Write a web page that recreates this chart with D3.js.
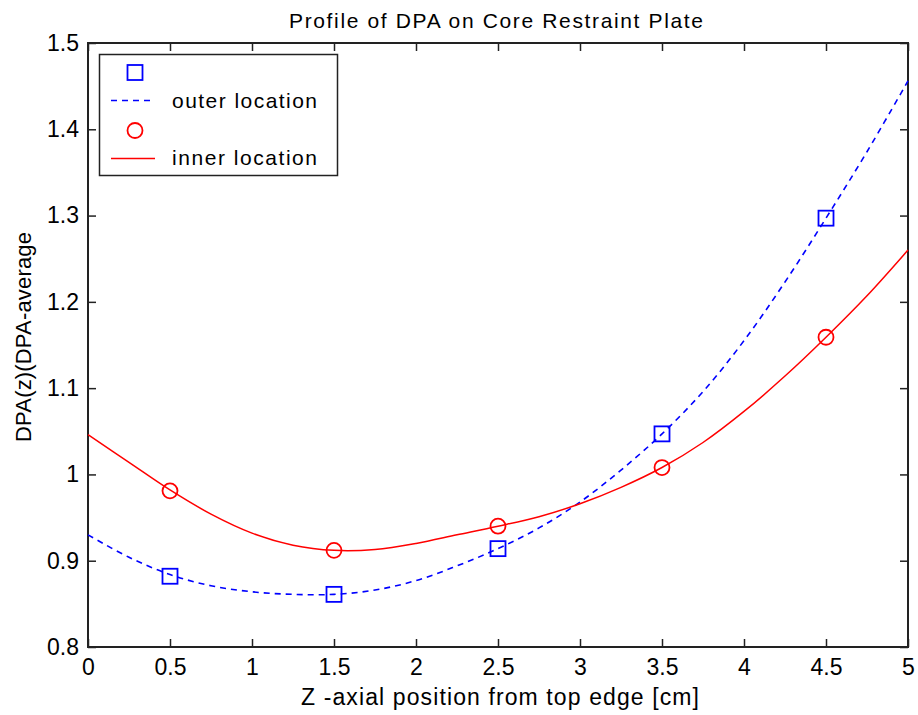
<!DOCTYPE html>
<html>
<head>
<meta charset="utf-8">
<script src="https://cdn.jsdelivr.net/npm/d3@7"></script>
<style>
  html, body { margin: 0; padding: 0; background: #fff; }
  svg { display: block; }
  text { font-family: "Liberation Sans", Arial, sans-serif; fill: #000; }
</style>
</head>
<body>
<svg id="chart" width="918" height="715"></svg>
<script>
// Axial positions of the measured points [cm]
const pointX = [0.5, 1.5, 2.5, 3.5, 4.5];
// Normalised DPA at the outer and inner locations
const outerPoints = [0.882, 0.861, 0.914, 1.047, 1.297];
const innerPoints = [0.981, 0.912, 0.940, 1.008, 1.159];

// Fitted profiles, sampled every 0.25 cm
const curveX = [0, 0.25, 0.5, 0.75, 1, 1.25, 1.5, 1.75, 2, 2.25, 2.5, 2.75, 3, 3.25, 3.5, 3.75, 4, 4.25, 4.5, 4.75, 5];
const outerCurve = [0.930, 0.904, 0.884, 0.871, 0.864, 0.861, 0.861, 0.866, 0.877, 0.894, 0.914, 0.938, 0.968, 1.005, 1.047, 1.096, 1.155, 1.223, 1.297, 1.374, 1.456];
const innerCurve = [1.046, 1.014, 0.982, 0.954, 0.932, 0.918, 0.912, 0.913, 0.920, 0.930, 0.940, 0.951, 0.966, 0.985, 1.008, 1.037, 1.073, 1.114, 1.159, 1.207, 1.260];

// Tick values
const xTicks = [0, 0.5, 1, 1.5, 2, 2.5, 3, 3.5, 4, 4.5, 5];
const yTicks = [0.8, 0.9, 1, 1.1, 1.2, 1.3, 1.4, 1.5];

const titleText = "Profile of DPA on Core Restraint Plate";
const xLabel = "Z -axial position from top edge [cm]";
const yLabel = "DPA(z)(DPA-average";
const legendLabels = ["outer location", "inner location"];

const blue = "#0000ff", red = "#ff0000";
const plotL = 88, plotR = 908, plotT = 43, plotB = 647;

const svg = d3.select("#chart");
const x = d3.scaleLinear().domain([0, 5]).range([plotL, plotR]);
const y = d3.scaleLinear().domain([0.8, 1.5]).range([plotB, plotT]);

const fmt = d => String(+d.toFixed(1));
const tickLen = 8;

// Axes box with inward ticks on all four sides
const axisStyle = g => {
  g.select(".domain").remove();
  g.selectAll(".tick line").attr("stroke", "#222").attr("stroke-width", 1.5);
  g.selectAll(".tick text").attr("fill", "#222").style("font-size", "23px");
};

svg.append("g").attr("transform", `translate(0,${plotB})`)
  .call(d3.axisBottom(x).tickValues(xTicks).tickFormat(fmt).tickSizeInner(-tickLen).tickSizeOuter(0).tickPadding(12))
  .call(axisStyle);
svg.append("g").attr("transform", `translate(0,${plotT})`)
  .call(d3.axisTop(x).tickValues(xTicks).tickFormat("").tickSizeInner(-tickLen).tickSizeOuter(0))
  .call(axisStyle);
svg.append("g").attr("transform", `translate(${plotL},0)`)
  .call(d3.axisLeft(y).tickValues(yTicks).tickFormat(fmt).tickSizeInner(-tickLen).tickSizeOuter(0).tickPadding(9))
  .call(axisStyle);
svg.append("g").attr("transform", `translate(${plotR},0)`)
  .call(d3.axisRight(y).tickValues(yTicks).tickFormat("").tickSizeInner(-tickLen).tickSizeOuter(0))
  .call(axisStyle);

svg.append("rect")
  .attr("x", plotL).attr("y", plotT)
  .attr("width", plotR - plotL).attr("height", plotB - plotT)
  .attr("fill", "none").attr("stroke", "#222").attr("stroke-width", 2);

// Fitted profiles
const line = d3.line().x(d => x(d[0])).y(d => y(d[1])).curve(d3.curveCatmullRom.alpha(0.5));

svg.append("path")
  .datum(curveX.map((v, i) => [v, outerCurve[i]]))
  .attr("d", line)
  .attr("fill", "none").attr("stroke", blue).attr("stroke-width", 1.6)
  .attr("stroke-dasharray", "6,5");

svg.append("path")
  .datum(curveX.map((v, i) => [v, innerCurve[i]]))
  .attr("d", line)
  .attr("fill", "none").attr("stroke", red).attr("stroke-width", 1.5);

// Measured points
const sq = 15;
svg.append("g").selectAll("rect")
  .data(pointX.map((v, i) => [v, outerPoints[i]]))
  .join("rect")
  .attr("x", d => x(d[0]) - sq / 2).attr("y", d => y(d[1]) - sq / 2)
  .attr("width", sq).attr("height", sq)
  .attr("fill", "none").attr("stroke", blue).attr("stroke-width", 1.8);

svg.append("g").selectAll("circle")
  .data(pointX.map((v, i) => [v, innerPoints[i]]))
  .join("circle")
  .attr("cx", d => x(d[0])).attr("cy", d => y(d[1])).attr("r", 7.5)
  .attr("fill", "none").attr("stroke", red).attr("stroke-width", 1.8);

// Legend
const lg = svg.append("g");
lg.append("rect").attr("x", 99.5).attr("y", 54.5).attr("width", 238).attr("height", 121)
  .attr("fill", "#fff").attr("stroke", "#222").attr("stroke-width", 1.5);
lg.append("rect").attr("x", 135 - sq / 2).attr("y", 72.5 - sq / 2).attr("width", sq).attr("height", sq)
  .attr("fill", "none").attr("stroke", blue).attr("stroke-width", 1.8);
lg.append("line").attr("x1", 111).attr("x2", 153).attr("y1", 100.5).attr("y2", 100.5)
  .attr("stroke", blue).attr("stroke-width", 1.6).attr("stroke-dasharray", "6,5");
lg.append("circle").attr("cx", 135).attr("cy", 130.5).attr("r", 7.5)
  .attr("fill", "none").attr("stroke", red).attr("stroke-width", 1.8);
lg.append("line").attr("x1", 111).attr("x2", 155).attr("y1", 158.5).attr("y2", 158.5)
  .attr("stroke", red).attr("stroke-width", 1.5);
lg.selectAll("text.lab").data(legendLabels).join("text")
  .attr("class", "lab")
  .attr("x", 172).attr("y", (d, i) => 108 + i * 57)
  .attr("fill", "#222")
  .attr("textLength", 145).attr("lengthAdjust", "spacing")
  .style("font-size", "21px")
  .text(d => d);

// Titles
svg.append("text").attr("x", (plotL + plotR) / 2 - 2).attr("y", 28)
  .attr("text-anchor", "middle").attr("fill", "#222")
  .attr("textLength", 414).attr("lengthAdjust", "spacing")
  .style("font-size", "21px").text(titleText);
svg.append("text").attr("x", (plotL + plotR) / 2 + 2).attr("y", 705)
  .attr("text-anchor", "middle").attr("fill", "#222")
  .attr("textLength", 398).attr("lengthAdjust", "spacing")
  .style("font-size", "23px").text(xLabel);
svg.append("text").attr("transform", `translate(31,337) rotate(-90)`)
  .attr("text-anchor", "middle").attr("fill", "#222")
  .attr("textLength", 210).attr("lengthAdjust", "spacing")
  .style("font-size", "22px").text(yLabel);
</script>
</body>
</html>
